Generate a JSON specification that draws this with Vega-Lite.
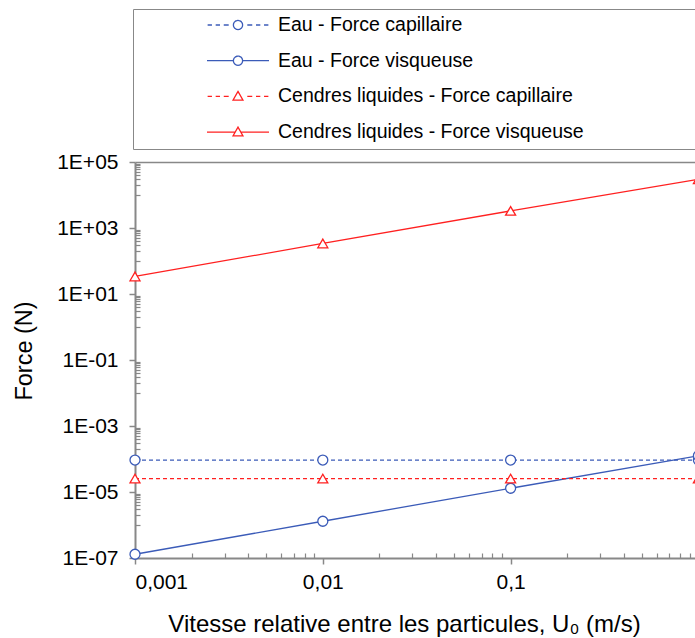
{
  "$schema": "https://vega.github.io/schema/vega-lite/v6.json",
  "autosize": {"type": "none"},
  "padding": {"left": 135, "top": 162, "right": 0, "bottom": 80},
  "width": 560,
  "height": 396,
  "background": "white",
  "config": {
    "font": "Liberation Sans",
    "view": {"stroke": null},
    "axis": {"grid": false, "domainColor": "#888888", "tickColor": "#888888", "labelColor": "#000000", "titleColor": "#000000", "titleFontWeight": "normal", "labelFont": "Liberation Sans", "titleFont": "Liberation Sans"}
  },
  "data": {
    "values": [
      {"series": "Eau - Force capillaire", "u": 0.001, "force": 9.3e-5},
      {"series": "Eau - Force capillaire", "u": 0.01, "force": 9.3e-5},
      {"series": "Eau - Force capillaire", "u": 0.1, "force": 9.3e-5},
      {"series": "Eau - Force capillaire", "u": 1, "force": 9.3e-5},
      {"series": "Eau - Force visqueuse", "u": 0.001, "force": 1.3e-7},
      {"series": "Eau - Force visqueuse", "u": 0.01, "force": 1.3e-6},
      {"series": "Eau - Force visqueuse", "u": 0.1, "force": 1.3e-5},
      {"series": "Eau - Force visqueuse", "u": 1, "force": 1.25e-4},
      {"series": "Cendres liquides - Force capillaire", "u": 0.001, "force": 2.55e-5},
      {"series": "Cendres liquides - Force capillaire", "u": 0.01, "force": 2.55e-5},
      {"series": "Cendres liquides - Force capillaire", "u": 0.1, "force": 2.55e-5},
      {"series": "Cendres liquides - Force capillaire", "u": 1, "force": 2.55e-5},
      {"series": "Cendres liquides - Force visqueuse", "u": 0.001, "force": 34},
      {"series": "Cendres liquides - Force visqueuse", "u": 0.01, "force": 340},
      {"series": "Cendres liquides - Force visqueuse", "u": 0.1, "force": 3300},
      {"series": "Cendres liquides - Force visqueuse", "u": 1, "force": 30000}
    ]
  },
  "encoding": {
    "color": {
      "field": "series",
      "type": "nominal",
      "scale": {
        "domain": ["Eau - Force capillaire", "Eau - Force visqueuse", "Cendres liquides - Force capillaire", "Cendres liquides - Force visqueuse"],
        "range": ["#3b5bb8", "#3b5bb8", "#ff2020", "#ff2020"]
      },
      "legend": {
        "orient": "none",
        "legendX": -2,
        "legendY": -153,
        "title": null,
        "strokeColor": "#888888",
        "fillColor": "#ffffff",
        "padding": 6,
        "clipHeight": 20,
        "rowPadding": 15.7,
        "symbolOffset": 67,
        "labelOffset": 8,
        "symbolSize": 3844,
        "symbolStrokeWidth": 1.3,
        "labelFontSize": 19.5,
        "labelFont": "Liberation Sans",
        "labelColor": "#000000",
        "labelLimit": 3000,
        "labelExpr": "datum.label + '\u00a0\u00a0\u00a0\u00a0\u00a0\u00a0\u00a0\u00a0\u00a0\u00a0\u00a0\u00a0\u00a0\u00a0\u00a0\u00a0\u00a0\u00a0\u00a0\u00a0\u200b'",
        "encode": {
          "symbols": {
            "update": {
              "size": {"value": 3844},
              "fill": {"value": "#ffffff"},
              "strokeDash": {"value": [1, 0]},
              "strokeWidth": {"value": 1.3},
              "opacity": {"value": 1},
              "shape": {"signal": "datum.value == 'Eau - Force capillaire' ? 'M-0.98,0H-0.84M-0.72,0H-0.58M-0.46,0H-0.3M0.3,0H0.46M0.58,0H0.72M0.84,0H0.98M0.148,0A0.148,0.148,0,1,1,-0.148,0A0.148,0.148,0,1,1,0.148,0' : datum.value == 'Eau - Force visqueuse' ? 'M-1,0H-0.148M0.148,0H1M0.148,0A0.148,0.148,0,1,1,-0.148,0A0.148,0.148,0,1,1,0.148,0' : datum.value == 'Cendres liquides - Force capillaire' ? 'M-0.98,0H-0.84M-0.72,0H-0.58M-0.46,0H-0.3M0.3,0H0.46M0.58,0H0.72M0.84,0H0.98M-0.16,0.12L0,-0.16L0.16,0.12Z' : 'M-1,0H-0.09M0.09,0H1M-0.16,0.12L0,-0.16L0.16,0.12Z'"}
            }
          }
        }
      }
    }
  },
  "layer": [
    {
      "transform": [{"filter": "indexof(datum.series, 'visqueuse') >= 0"}],
      "mark": {"type": "line", "strokeWidth": 1.3},
      "encoding": {
        "x": {
          "field": "u", "type": "quantitative",
          "scale": {"type": "log", "domain": [0.001, 0.959], "nice": false},
          "axis": {
            "orient": "bottom",
            "values": [0.001, 0.01, 0.1],
            "labelExpr": "replace(format(datum.value, '~g'), '.', ',')",
            "labelFontSize": 21,
            "labelPadding": 7,
            "tickSize": 6,
            "tickWidth": 1.5,
            "domainWidth": 2,
            "title": "Vitesse relative entre les particules, U₀ (m/s)",
            "titleFontSize": 24,
            "titleX": 269,
            "titleY": 73,
            "titleAlign": "center",
            "titleBaseline": "alphabetic"
          }
        },
        "y": {
          "field": "force", "type": "quantitative",
          "scale": {"type": "log", "domain": [1e-7, 1e5], "nice": false},
          "axis": {
            "orient": "left",
            "values": [1e-7, 1e-5, 1e-3, 1e-1, 10, 1000, 100000],
            "labelExpr": "'1E' + (round(log(datum.value)/LN10) < 0 ? '-' : '+') + (abs(round(log(datum.value)/LN10)) < 10 ? '0' : '') + abs(round(log(datum.value)/LN10))",
            "labelFontSize": 21,
            "labelPadding": 11,
            "tickSize": 6,
            "tickWidth": 1.5,
            "domainWidth": 2,
            "title": "Force (N)",
            "titleFontSize": 23.5,
            "titleX": -103.5,
            "titleY": 188.5,
            "titleAlign": "center",
            "titleBaseline": "alphabetic"
          }
        }
      }
    },
    {
      "transform": [{"filter": "indexof(datum.series, 'capillaire') >= 0"}],
      "mark": {"type": "line", "strokeWidth": 1.3, "strokeDash": [4, 3]},
      "encoding": {
        "x": {
          "field": "u", "type": "quantitative",
          "axis": {
            "orient": "bottom",
            "values": [0.002, 0.003, 0.004, 0.005, 0.006, 0.007, 0.008, 0.009, 0.02, 0.03, 0.04, 0.05, 0.06, 0.07, 0.08, 0.09, 0.2, 0.3, 0.4, 0.5, 0.6, 0.7, 0.8, 0.9],
            "labels": false, "domain": false, "title": null, "tickSize": -5, "tickWidth": 1.2
          }
        },
        "y": {
          "field": "force", "type": "quantitative",
          "axis": {
            "orient": "left",
            "values": [1e-6, 2e-6, 3e-6, 4e-6, 5e-6, 6e-6, 7e-6, 8e-6, 9e-6, 1e-4, 2e-4, 3e-4, 4e-4, 5e-4, 6e-4, 7e-4, 8e-4, 9e-4, 0.01, 0.02, 0.03, 0.04, 0.05, 0.06, 0.07, 0.08, 0.09, 1, 2, 3, 4, 5, 6, 7, 8, 9, 100, 200, 300, 400, 500, 600, 700, 800, 900, 10000, 20000, 30000, 40000, 50000, 60000, 70000, 80000, 90000],
            "labels": false, "domain": false, "title": null, "tickSize": -5, "tickWidth": 1.2
          }
        }
      }
    },
    {
      "transform": [{"filter": "indexof(datum.series, 'Eau') == 0"}],
      "mark": {"type": "point", "shape": "circle", "filled": false, "fill": "#ffffff", "fillOpacity": 1, "opacity": 1, "size": 100, "strokeWidth": 1.3},
      "encoding": {
        "x": {
          "field": "u", "type": "quantitative",
          "axis": {"orient": "top", "labels": false, "ticks": false, "domain": true, "domainWidth": 1.5, "title": null}
        },
        "y": {"field": "force", "type": "quantitative", "axis": null}
      }
    },
    {
      "transform": [{"filter": "indexof(datum.series, 'Cendres') == 0"}],
      "mark": {"type": "point", "shape": "triangle-up", "filled": false, "fill": "#ffffff", "fillOpacity": 1, "opacity": 1, "size": 100, "strokeWidth": 1.3},
      "encoding": {
        "x": {"field": "u", "type": "quantitative", "axis": null},
        "y": {"field": "force", "type": "quantitative", "axis": null}
      }
    }
  ],
  "resolve": {"axis": {"x": "independent", "y": "independent"}}
}
